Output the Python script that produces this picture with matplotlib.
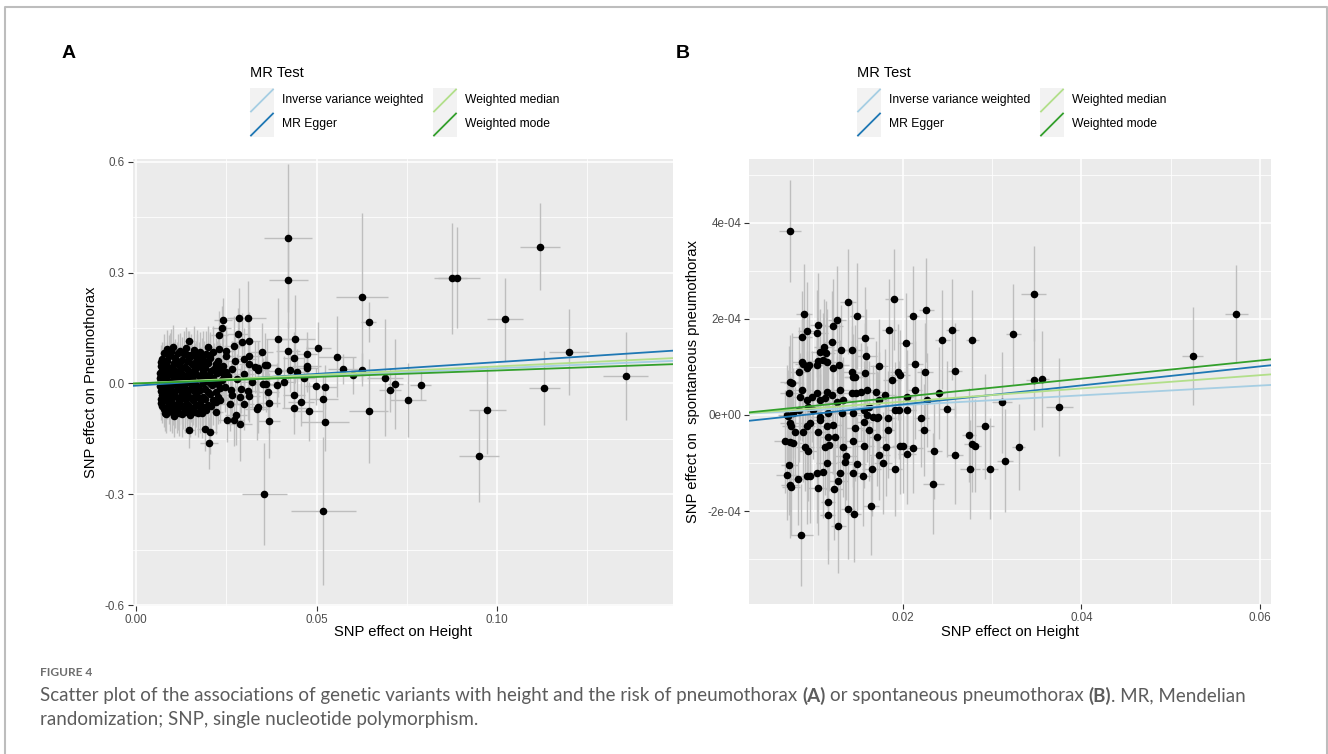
import numpy as np
import matplotlib
matplotlib.use("Agg")
import matplotlib.pyplot as plt
from matplotlib.patches import Rectangle
from matplotlib.lines import Line2D

plt.rcParams["font.family"] = ["Liberation Sans", "DejaVu Sans"]

W, H = 1328, 754

# ---------------- data: panel A (height -> pneumothorax) ----------------
a_wide_x = [0.0420, 0.0422, 0.0626, 0.0644, 0.0876, 0.0889, 0.1119, 0.1021, 0.1200, 0.1356,
            0.1131, 0.0973, 0.0950, 0.0355, 0.0519, 0.0644, 0.0689, 0.0704, 0.0718, 0.0752,
            0.0788, 0.0557, 0.0574, 0.0600, 0.0626, 0.0505, 0.0497, 0.0524, 0.0519, 0.0524,
            0.0479, 0.0457, 0.0438, 0.0438, 0.0473, 0.0473, 0.0473, 0.0441, 0.0437, 0.0420,
            0.0426, 0.0447, 0.0465, 0.0394, 0.0394, 0.0391, 0.0410, 0.0369, 0.0367, 0.0362,
            0.0348, 0.0337, 0.0337, 0.0364, 0.0352, 0.0310, 0.0285, 0.0241, 0.0237, 0.0314,
            0.0293, 0.0282, 0.0147, 0.0287, 0.0277, 0.0252, 0.0271, 0.0202, 0.0204, 0.0191,
            0.0147, 0.0221, 0.0314, 0.0298, 0.0314, 0.0314, 0.0271, 0.0248, 0.0229,
            0.0265, 0.0280, 0.0300, 0.0320, 0.0290, 0.0310, 0.0275, 0.0300, 0.0330, 0.0265,
            0.0250, 0.0255, 0.0233, 0.0260, 0.0288, 0.0334, 0.0339, 0.0357, 0.0360, 0.0225,
            0.0200, 0.0231, 0.0245, 0.0235]
a_wide_y = [0.393, 0.280, 0.235, 0.165, 0.285, 0.286, 0.370, 0.173, 0.085, 0.020,
            -0.013, -0.072, -0.197, -0.300, -0.346, -0.074, 0.015, -0.018, -0.002, -0.044,
            -0.004, 0.072, 0.039, 0.0225, 0.037, 0.095, -0.008, -0.009, -0.041, -0.104,
            -0.075, -0.050, -0.067, -0.031, 0.048, 0.041, 0.079, 0.120, 0.070, 0.087,
            0.037, 0.031, 0.016, 0.120, 0.034, -0.005, 0.003, -0.102, -0.053, 0.050,
            0.084, 0.043, -0.063, -0.024, -0.002, 0.178, 0.177, 0.172, 0.150, 0.114,
            0.111, 0.135, 0.116, -0.110, -0.086, -0.098, -0.098, -0.162, -0.131, -0.122,
            -0.125, -0.078, -0.033, -0.056, 0.075, 0.052, 0.102, 0.075, 0.093,
            0.040, 0.012, 0.025, 0.005, -0.015, -0.020, 0.060, 0.065, 0.045, -0.030,
            0.088, 0.020, -0.046, -0.055, -0.037, -0.069, 0.035, 0.049, -0.001, 0.053,
            0.098, 0.130, -0.010, 0.030]
a_wide_sex = [0.0066, 0.0054, 0.0073, 0.0020, 0.0040, 0.0065, 0.0056, 0.0050, 0.0056, 0.0062,
              0.0043, 0.0051, 0.0055, 0.0063, 0.0089, 0.0053, 0.0050, 0.0030, 0.0020, 0.0050,
              0.0030, 0.0052, 0.0042, 0.0035, 0.0030, 0.0035, 0.0030, 0.0032, 0.0040, 0.0066,
              0.0040, 0.0035, 0.0035, 0.0030, 0.0040, 0.0031, 0.0028, 0.0054, 0.0030, 0.0033,
              0.0029, 0.0031, 0.0030, 0.0034, 0.0030, 0.0027, 0.0031, 0.0030, 0.0033, 0.0029,
              0.0032, 0.0030, 0.0028, 0.0031, 0.0030, 0.0050, 0.0032, 0.0025, 0.0026, 0.0030,
              0.0031, 0.0029, 0.0015, 0.0033, 0.0030, 0.0025, 0.0028, 0.0025, 0.0020, 0.0021,
              0.0015, 0.0020, 0.0030, 0.0029, 0.0031, 0.0030, 0.0028, 0.0025, 0.0024,
              0.0028, 0.0030, 0.0026, 0.0032, 0.0027, 0.0030, 0.0025, 0.0033, 0.0029, 0.0026,
              0.0024, 0.0027, 0.0023, 0.0028, 0.0030, 0.0031, 0.0029, 0.0034, 0.0030, 0.0022,
              0.0020, 0.0024, 0.0026, 0.0023]
a_wide_sey = [0.200, 0.130, 0.225, 0.054, 0.150, 0.137, 0.118, 0.113, 0.117, 0.119,
              0.100, 0.120, 0.125, 0.138, 0.200, 0.140, 0.158, 0.060, 0.122, 0.100,
              0.040, 0.110, 0.040, 0.050, 0.045, 0.072, 0.050, 0.060, 0.070, 0.080,
              0.080, 0.065, 0.070, 0.060, 0.070, 0.060, 0.060, 0.120, 0.070, 0.080,
              0.060, 0.062, 0.058, 0.110, 0.070, 0.060, 0.070, 0.100, 0.080, 0.070,
              0.080, 0.070, 0.072, 0.068, 0.070, 0.100, 0.080, 0.060, 0.060, 0.080,
              0.080, 0.070, 0.025, 0.100, 0.080, 0.060, 0.070, 0.070, 0.060, 0.060,
              0.050, 0.060, 0.070, 0.070, 0.080, 0.070, 0.080, 0.070, 0.060,
              0.075, 0.068, 0.082, 0.071, 0.066, 0.079, 0.073, 0.085, 0.070, 0.064,
              0.069, 0.072, 0.061, 0.074, 0.077, 0.083, 0.080, 0.088, 0.076, 0.062,
              0.058, 0.065, 0.067, 0.063]

a_core_x = [0.0085, 0.0102, 0.0122, 0.0138, 0.0160, 0.0178, 0.0195, 0.0212,
            0.0072, 0.0090, 0.0108, 0.0128, 0.0150, 0.0170, 0.0188, 0.0205, 0.0228,
            0.0068, 0.0082, 0.0100, 0.0118, 0.0135, 0.0155, 0.0175, 0.0192, 0.0215, 0.0240,
            0.0066, 0.0078, 0.0094, 0.0112, 0.0130, 0.0148, 0.0166, 0.0185, 0.0202, 0.0225, 0.0250,
            0.0070, 0.0088, 0.0105, 0.0122, 0.0142, 0.0160, 0.0180, 0.0198, 0.0218, 0.0238,
            0.0067, 0.0080, 0.0098, 0.0116, 0.0134, 0.0152, 0.0172, 0.0190, 0.0210, 0.0232, 0.0262,
            0.0072, 0.0090, 0.0108, 0.0126, 0.0145, 0.0165, 0.0184, 0.0205, 0.0228,
            0.0070, 0.0085, 0.0102, 0.0120, 0.0140, 0.0158, 0.0178, 0.0198, 0.0222,
            0.0076, 0.0095, 0.0115, 0.0135, 0.0155, 0.0176, 0.0195,
            0.0083, 0.0105, 0.0128, 0.0150, 0.0172,
            0.0078, 0.0096, 0.0112, 0.0144, 0.0166, 0.0090, 0.0125, 0.0100, 0.0140, 0.0118,
            0.0092, 0.0130, 0.0162, 0.0113, 0.0075, 0.0065]
a_core_y = [0.092, 0.098, 0.088, 0.095, 0.090, 0.084, 0.079, 0.086,
            0.066, 0.074, 0.070, 0.064, 0.072, 0.068, 0.061, 0.069, 0.062,
            0.048, 0.052, 0.045, 0.050, 0.044, 0.053, 0.047, 0.042, 0.040, 0.046,
            0.028, 0.033, 0.027, 0.031, 0.024, 0.030, 0.026, 0.033, 0.022, 0.027, 0.031,
            0.010, 0.006, 0.013, 0.008, 0.012, 0.004, 0.011, 0.007, 0.002, 0.009,
            -0.008, -0.013, -0.006, -0.011, -0.004, -0.014, -0.009, -0.016, -0.005, -0.012, -0.018,
            -0.031, -0.026, -0.034, -0.028, -0.033, -0.025, -0.036, -0.029, -0.038,
            -0.052, -0.047, -0.055, -0.049, -0.056, -0.046, -0.053, -0.058, -0.050,
            -0.068, -0.073, -0.066, -0.075, -0.070, -0.064, -0.072,
            -0.084, -0.088, -0.082, -0.086, -0.080,
            0.060, 0.086, 0.058, 0.078, 0.058, 0.040, 0.040, -0.020, -0.018, 0.020,
            -0.040, -0.060, -0.038, -0.076, -0.020, 0.015]
a_core_sex = [0.0014, 0.0016, 0.0013, 0.0017, 0.0015, 0.0018, 0.0016, 0.0019,
              0.0012, 0.0015, 0.0014, 0.0016, 0.0013, 0.0017, 0.0015, 0.0018, 0.0019,
              0.0011, 0.0013, 0.0015, 0.0014, 0.0016, 0.0013, 0.0017, 0.0015, 0.0018, 0.0020,
              0.0011, 0.0012, 0.0014, 0.0016, 0.0013, 0.0015, 0.0017, 0.0014, 0.0016, 0.0019, 0.0021,
              0.0012, 0.0014, 0.0013, 0.0015, 0.0017, 0.0014, 0.0016, 0.0018, 0.0017, 0.0020,
              0.0011, 0.0013, 0.0015, 0.0014, 0.0016, 0.0013, 0.0017, 0.0015, 0.0018, 0.0019, 0.0022,
              0.0012, 0.0014, 0.0016, 0.0013, 0.0015, 0.0017, 0.0014, 0.0018, 0.0020,
              0.0012, 0.0013, 0.0015, 0.0017, 0.0014, 0.0016, 0.0015, 0.0018, 0.0019,
              0.0013, 0.0015, 0.0014, 0.0016, 0.0017, 0.0015, 0.0018,
              0.0013, 0.0016, 0.0014, 0.0017, 0.0015,
              0.0013, 0.0015, 0.0014, 0.0016, 0.0017, 0.0014, 0.0015, 0.0016, 0.0013, 0.0015,
              0.0014, 0.0016, 0.0017, 0.0015, 0.0012, 0.0011]
a_core_sey = [0.052, 0.061, 0.048, 0.057, 0.066, 0.054, 0.063, 0.070,
              0.045, 0.058, 0.051, 0.062, 0.049, 0.067, 0.055, 0.064, 0.072,
              0.044, 0.050, 0.059, 0.047, 0.061, 0.053, 0.066, 0.058, 0.069, 0.074,
              0.043, 0.049, 0.055, 0.060, 0.052, 0.064, 0.057, 0.068, 0.061, 0.070, 0.075,
              0.046, 0.053, 0.058, 0.050, 0.063, 0.056, 0.067, 0.060, 0.071, 0.066,
              0.044, 0.051, 0.056, 0.062, 0.049, 0.065, 0.058, 0.069, 0.063, 0.072, 0.076,
              0.047, 0.054, 0.060, 0.052, 0.066, 0.059, 0.068, 0.064, 0.071,
              0.046, 0.050, 0.057, 0.063, 0.053, 0.067, 0.060, 0.070, 0.073,
              0.049, 0.055, 0.061, 0.058, 0.064, 0.069, 0.066,
              0.050, 0.056, 0.062, 0.059, 0.065,
              0.052, 0.060, 0.055, 0.063, 0.058, 0.054, 0.061, 0.057, 0.062, 0.053,
              0.056, 0.064, 0.060, 0.058, 0.050, 0.047]

# second layer of the dense core (between the rows above)
a_dense_x = [0.0078, 0.0095, 0.0115, 0.0132, 0.0152, 0.0168, 0.0186, 0.0204,
             0.0070, 0.0086, 0.0104, 0.0122, 0.0142, 0.0162, 0.0182, 0.0200, 0.0220,
             0.0072, 0.0088, 0.0106, 0.0124, 0.0145, 0.0163, 0.0183, 0.0208, 0.0232,
             0.0069, 0.0084, 0.0101, 0.0119, 0.0137, 0.0156, 0.0174, 0.0192, 0.0212, 0.0244,
             0.0066, 0.0078, 0.0093, 0.0110, 0.0128, 0.0148, 0.0166, 0.0186, 0.0205, 0.0226,
             0.0070, 0.0086, 0.0104, 0.0122, 0.0140, 0.0160, 0.0178, 0.0198, 0.0220,
             0.0068, 0.0082, 0.0098, 0.0116, 0.0135, 0.0152, 0.0172, 0.0192, 0.0212,
             0.0073, 0.0090, 0.0108, 0.0126, 0.0146, 0.0166, 0.0186, 0.0208,
             0.0080, 0.0100, 0.0120, 0.0140, 0.0162, 0.0183]
a_dense_y = [0.081, 0.077, 0.083, 0.079, 0.076, 0.082, 0.074, 0.078,
             0.057, 0.060, 0.055, 0.059, 0.061, 0.054, 0.058, 0.056, 0.052,
             0.037, 0.040, 0.036, 0.039, 0.035, 0.038, 0.041, 0.034, 0.036,
             0.019, 0.017, 0.021, 0.018, 0.020, 0.016, 0.019, 0.022, 0.015, 0.018,
             0.001, -0.002, 0.000, 0.002, -0.001, 0.001, -0.003, 0.000, 0.002, -0.002,
             -0.021, -0.018, -0.022, -0.019, -0.023, -0.020, -0.017, -0.022, -0.024,
             -0.041, -0.038, -0.042, -0.039, -0.043, -0.040, -0.037, -0.042, -0.044,
             -0.061, -0.058, -0.063, -0.060, -0.062, -0.059, -0.064, -0.061,
             -0.079, -0.077, -0.080, -0.078, -0.076, -0.081]
a_dense_sex = [0.0013, 0.0015, 0.0014, 0.0017, 0.0016, 0.0015, 0.0018, 0.0017,
               0.0012, 0.0014, 0.0016, 0.0013, 0.0015, 0.0017, 0.0016, 0.0018, 0.0019,
               0.0012, 0.0013, 0.0015, 0.0016, 0.0014, 0.0017, 0.0015, 0.0018, 0.0020,
               0.0011, 0.0013, 0.0014, 0.0016, 0.0015, 0.0013, 0.0017, 0.0016, 0.0018, 0.0021,
               0.0011, 0.0012, 0.0014, 0.0015, 0.0013, 0.0016, 0.0014, 0.0017, 0.0018, 0.0019,
               0.0012, 0.0014, 0.0013, 0.0016, 0.0015, 0.0017, 0.0014, 0.0018, 0.0019,
               0.0011, 0.0013, 0.0015, 0.0014, 0.0016, 0.0013, 0.0017, 0.0015, 0.0018,
               0.0012, 0.0014, 0.0015, 0.0013, 0.0016, 0.0017, 0.0015, 0.0018,
               0.0013, 0.0015, 0.0014, 0.0016, 0.0017, 0.0015]
a_dense_sey = [0.053, 0.059, 0.050, 0.064, 0.057, 0.062, 0.068, 0.060,
               0.046, 0.052, 0.058, 0.049, 0.063, 0.055, 0.066, 0.061, 0.070,
               0.045, 0.051, 0.056, 0.060, 0.053, 0.065, 0.058, 0.067, 0.072,
               0.044, 0.048, 0.054, 0.059, 0.051, 0.062, 0.056, 0.066, 0.064, 0.073,
               0.043, 0.047, 0.052, 0.057, 0.061, 0.050, 0.065, 0.059, 0.068, 0.070,
               0.045, 0.050, 0.055, 0.061, 0.053, 0.064, 0.058, 0.067, 0.071,
               0.044, 0.049, 0.054, 0.060, 0.052, 0.063, 0.057, 0.066, 0.069,
               0.047, 0.053, 0.058, 0.051, 0.064, 0.060, 0.067, 0.070,
               0.050, 0.056, 0.061, 0.055, 0.063, 0.066]

# ---------------- data: panel B (height -> spontaneous pneumothorax), y in 1e-4 ----------------
b_wide_x = [0.00737, 0.00865, 0.03465, 0.05734, 0.05242, 0.03752, 0.03473, 0.03559, 0.03238, 0.03298,
            0.03148, 0.03109, 0.02981, 0.02925, 0.02750, 0.02745, 0.02780, 0.02770, 0.02810, 0.02587,
            0.02587, 0.02557, 0.02445, 0.02407, 0.02343, 0.02355, 0.02266, 0.02253, 0.02236, 0.02210,
            0.02116, 0.02137, 0.02137, 0.02051, 0.02039, 0.01966, 0.01906, 0.01914, 0.01960, 0.01846,
            0.01840, 0.01840, 0.01645, 0.01620, 0.01486, 0.01388, 0.01452, 0.01388, 0.01281, 0.01161,
            0.01161, 0.00895, 0.00750, 0.00960, 0.00737, 0.00737, 0.00767, 0.00720, 0.00750, 0.02500,
            0.02270]
b_wide_y = [3.83, -2.50, 2.52, 2.10, 1.23, 0.17, 0.73, 0.74, 1.68, -0.67,
            -0.95, 0.26, -1.12, -0.24, -1.13, -0.41, 1.56, -0.60, -0.64, -0.83,
            0.92, 1.77, 1.56, 0.46, -1.43, -0.76, 2.18, 0.90, -0.31, -0.06,
            2.05, 1.06, 0.51, 0.38, 1.50, -0.64, 2.41, -1.12, 0.10, 1.77,
            -0.06, -0.31, -1.89, 0.17, 2.06, 2.36, -2.07, -1.96, -2.31, -2.09,
            -1.82, 2.10, -1.49, -1.28, -0.57, 0.68, 0.66, -0.03, -0.24, 0.12,
            0.31]
b_wide_sex = [0.00122, 0.00128, 0.00140, 0.00133, 0.00122, 0.00148, 0.00090, 0.00080, 0.00080, 0.00070,
              0.00090, 0.00110, 0.00090, 0.00100, 0.00110, 0.00080, 0.00070, 0.00080, 0.00070, 0.00090,
              0.00080, 0.00070, 0.00080, 0.00070, 0.00120, 0.00080, 0.00080, 0.00090, 0.00070, 0.00080,
              0.00070, 0.00090, 0.00080, 0.00070, 0.00080, 0.00085, 0.00100, 0.00080, 0.00075, 0.00080,
              0.00085, 0.00070, 0.00090, 0.00070, 0.00080, 0.00085, 0.00080, 0.00075, 0.00080, 0.00085,
              0.00080, 0.00090, 0.00100, 0.00095, 0.00100, 0.00105, 0.00095, 0.00100, 0.00105, 0.00090,
              0.00080]
b_wide_sey = [1.06, 1.06, 0.99, 1.02, 1.02, 1.02, 1.05, 1.00, 1.05, 0.90,
              1.07, 1.06, 1.05, 1.09, 1.03, 0.98, 1.04, 1.01, 0.97, 1.02,
              0.99, 1.05, 1.03, 0.95, 1.05, 0.98, 1.08, 1.01, 0.96, 1.03,
              1.05, 0.99, 1.02, 0.97, 1.04, 1.00, 1.05, 0.98, 1.02, 1.06,
              0.97, 1.01, 1.03, 0.96, 1.10, 1.10, 1.00, 1.04, 0.98, 1.02,
              0.99, 1.05, 1.01, 0.97, 1.03, 0.99, 1.04, 0.96, 1.02, 1.00,
              0.97]

b_core_x = [0.00926, 0.00870, 0.01057, 0.01046, 0.01262, 0.01225, 0.01206, 0.01076, 0.01120, 0.01143,
            0.01307, 0.01437, 0.01590, 0.01583, 0.00870, 0.00882, 0.00956, 0.00844, 0.00926, 0.01038,
            0.01057, 0.01105, 0.01158, 0.01225, 0.01292, 0.01430, 0.01467, 0.01441, 0.01583, 0.01732,
            0.01952, 0.01971, 0.01878,
            0.00732, 0.00870, 0.00852, 0.00926, 0.00982, 0.01046, 0.01076, 0.01131, 0.01158, 0.01206,
            0.01299, 0.01337, 0.01430, 0.01479, 0.01531, 0.01598, 0.01702, 0.01740, 0.01803,
            0.00703, 0.00777, 0.00844, 0.00945, 0.01001, 0.01076, 0.01169, 0.01262, 0.01318, 0.01441,
            0.01568, 0.01598, 0.01672, 0.01728, 0.01915, 0.02046,
            0.00740, 0.00796, 0.00684, 0.00777, 0.00889, 0.00926, 0.00964, 0.00908, 0.00945, 0.01057,
            0.01076, 0.01158, 0.01225, 0.01169, 0.01243, 0.01131, 0.01180, 0.01337, 0.01367, 0.01467,
            0.01449, 0.01568, 0.01568, 0.01628, 0.01710, 0.01710, 0.01740, 0.01777, 0.01486, 0.01355,
            0.01150, 0.01046, 0.01105, 0.01299, 0.01449, 0.01553, 0.01654, 0.00732, 0.00703, 0.00740,
            0.00833, 0.00926, 0.01057, 0.01232, 0.01281, 0.01814, 0.02001, 0.02046, 0.02113]
b_core_y = [1.74, 1.62, 1.87, 1.70, 1.98, 1.85, 1.52, 1.32, 1.41, 1.28,
            1.35, 1.35, 1.23, 1.60, 1.10, 1.06, 1.04, 0.90, 0.97, 1.04,
            1.13, 1.14, 1.10, 0.97, 1.04, 0.90, 0.80, 0.78, 0.88, 1.02,
            0.90, 0.83, 0.73,
            0.46, 0.52, 0.38, 0.31, 0.38, 0.46, 0.31, 0.35, 0.48, 0.42,
            0.51, 0.31, 0.45, 0.46, 0.48, 0.51, 0.48, 0.31, 0.42,
            0.00, 0.04, 0.10, 0.17, 0.10, -0.04, 0.04, 0.28, 0.04, 0.04,
            0.10, 0.00, -0.04, -0.04, 0.10, 0.10,
            -0.17, -0.35, -0.55, -0.58, -0.35, -0.24, -0.17, -0.66, -0.76, -0.35,
            -0.10, -0.24, -0.21, -0.45, -0.45, -0.66, -0.62, -0.66, -0.85, -0.28,
            -0.55, -0.14, -0.64, -0.31, -0.07, -0.45, -0.83, -1.00, -1.02, -0.97,
            -1.00, -1.21, -1.18, -1.21, -1.21, -1.28, -1.13, -1.04, -1.25, -1.46,
            -1.34, -1.27, -1.52, -1.55, -1.37, -0.66, -0.64, -0.81, -0.69]
b_core_sex = [0.00100, 0.00110, 0.00090, 0.00120, 0.00100, 0.00110, 0.00090, 0.00105, 0.00115, 0.00095,
              0.00100, 0.00110, 0.00120, 0.00095, 0.00105, 0.00090, 0.00110, 0.00100, 0.00115, 0.00095,
              0.00105, 0.00100, 0.00120, 0.00090, 0.00110, 0.00100, 0.00115, 0.00095, 0.00105, 0.00100,
              0.00090, 0.00110, 0.00100,
              0.00110, 0.00100, 0.00120, 0.00090, 0.00110, 0.00100, 0.00115, 0.00095, 0.00105, 0.00100,
              0.00120, 0.00090, 0.00110, 0.00100, 0.00115, 0.00095, 0.00105, 0.00100, 0.00120,
              0.00100, 0.00115, 0.00090, 0.00110, 0.00100, 0.00120, 0.00095, 0.00105, 0.00100, 0.00115,
              0.00090, 0.00110, 0.00100, 0.00120, 0.00095, 0.00105,
              0.00110, 0.00090, 0.00120, 0.00100, 0.00105, 0.00095, 0.00115, 0.00100, 0.00110, 0.00090,
              0.00120, 0.00100, 0.00105, 0.00095, 0.00115, 0.00100, 0.00110, 0.00090, 0.00120, 0.00100,
              0.00105, 0.00095, 0.00115, 0.00100, 0.00110, 0.00090, 0.00120, 0.00100, 0.00105, 0.00095,
              0.00115, 0.00100, 0.00110, 0.00090, 0.00120, 0.00100, 0.00105, 0.00095, 0.00115, 0.00100,
              0.00110, 0.00090, 0.00120, 0.00100, 0.00105, 0.00095, 0.00115, 0.00100, 0.00110]
b_core_sey = [1.02, 0.95, 1.08, 0.91, 1.12, 0.98, 1.05, 0.89, 1.00, 1.10,
              0.93, 1.04, 0.97, 1.07, 0.90, 1.01, 1.09, 0.94, 1.03, 0.88,
              1.06, 0.99, 1.11, 0.92, 1.02, 0.96, 1.08, 0.90, 1.04, 0.97,
              1.00, 0.93, 1.05,
              0.98, 1.06, 0.91, 1.03, 0.95, 1.09, 0.88, 1.01, 1.07, 0.94,
              1.04, 0.90, 1.08, 0.97, 1.02, 0.92, 1.05, 0.99, 0.96,
              1.04, 0.93, 1.08, 0.97, 1.01, 0.89, 1.06, 0.95, 1.10, 0.92,
              1.03, 0.98, 1.07, 0.94, 1.00, 0.96,
              1.01, 0.94, 1.07, 0.90, 1.04, 0.98, 1.09, 0.92, 1.03, 0.96,
              1.06, 0.89, 1.02, 1.08, 0.93, 1.00, 0.97, 1.05, 0.91, 1.10,
              0.95, 1.03, 0.88, 1.06, 0.99, 1.02, 0.94, 1.07, 0.97, 1.01,
              0.92, 1.04, 0.96, 1.08, 0.90, 1.03, 0.98, 1.05, 0.93, 1.09,
              0.95, 1.00, 0.97, 1.06, 0.91, 1.02, 0.99, 1.04, 0.94]

# MR estimates (intercept, slope) per method
methods = ["Inverse variance weighted", "MR Egger", "Weighted median", "Weighted mode"]
method_colors = ["#A6CEE3", "#1F78B4", "#B2DF8A", "#33A02C"]
a_intercepts = [0.0, -0.006, 0.0, 0.0]
a_slopes = [0.41, 0.636, 0.46, 0.35]
b_intercepts = [0.0, -1.77e-5, 0.0, 0.0]
b_slopes = [1.02e-3, 1.98e-3, 1.38e-3, 1.89e-3]


def fx(px):
    return px / W


def fy(py):
    return 1 - py / H


def panel(rect_px, xs, ys, sexs, seys, intercepts, slopes, xlim, ylim,
          xmaj, xmin, xlabels, ymaj, ymin, ylabels):
    l, t, r, b = rect_px
    ax = fig.add_axes([fx(l), fy(b), (r - l) / W, (b - t) / H])
    ax.set_facecolor("#EBEBEB")
    x = np.concatenate([np.asarray(v, float) for v in xs])
    y = np.concatenate([np.asarray(v, float) for v in ys])
    sx = np.concatenate([np.asarray(v, float) for v in sexs])
    sy = np.concatenate([np.asarray(v, float) for v in seys])
    ax.errorbar(x, y, yerr=sy, fmt="none", ecolor="#BEBEBE", elinewidth=1.0, capsize=0, zorder=2)
    ax.errorbar(x, y, xerr=sx, fmt="none", ecolor="#BEBEBE", elinewidth=1.0, capsize=0, zorder=2)
    ax.scatter(x, y, s=30, c="black", linewidths=0, zorder=3)
    for b0, m, c in zip(intercepts, slopes, method_colors):
        ax.axline((0, b0), slope=m, color=c, lw=1.3, zorder=4)
    ax.set_xlim(xlim)
    ax.set_ylim(ylim)
    ax.set_xticks(xmaj)
    ax.set_xticklabels(xlabels)
    ax.set_xticks(xmin, minor=True)
    ax.set_yticks(ymaj)
    ax.set_yticklabels(ylabels)
    ax.set_yticks(ymin, minor=True)
    ax.grid(which="major", color="white", lw=1.1)
    ax.grid(which="minor", color="white", lw=0.55)
    ax.set_axisbelow(True)
    for s in ax.spines.values():
        s.set_visible(False)
    ax.tick_params(which="major", length=3.5, width=0.8, color="#333333",
                   labelsize=8.4, labelcolor="#4D4D4D", pad=2)
    ax.tick_params(which="minor", length=0)
    return ax


def legend(x0):
    fig.text(fx(x0), fy(73), "MR Test", fontsize=10.5, va="center", ha="left")
    for i, (name, c) in enumerate(zip(methods, method_colors)):
        col, row = i // 2, i % 2
        kx = x0 + col * 183
        ky = 88.5 + row * 24
        fig.add_artist(Rectangle((fx(kx), fy(ky + 24)), 24 / W, 24 / H,
                                 transform=fig.transFigure, color="#F2F2F2", lw=0))
        fig.add_artist(Line2D([fx(kx + 1), fx(kx + 23)], [fy(ky + 23), fy(ky + 1)],
                              transform=fig.transFigure, color=c, lw=1.3))
        fig.text(fx(kx + 32), fy(ky + 11), name, fontsize=8.7, va="center", ha="left")


fig = plt.figure(figsize=(W / 100, H / 100), dpi=100)
fig.patch.set_facecolor("white")

# outer frame (left, top, right)
fig.add_artist(Line2D([fx(4.7), fx(4.7), fx(1326.5), fx(1326.5)],
                      [fy(754), fy(6.7), fy(6.7), fy(754)],
                      transform=fig.transFigure, color="#BDBDBD", lw=1.5))

panel((132.5, 159, 672.5, 606), [a_wide_x, a_core_x, a_dense_x], [a_wide_y, a_core_y, a_dense_y],
      [a_wide_sex, a_core_sex, a_dense_sex], [a_wide_sey, a_core_sey, a_dense_sey],
      a_intercepts, a_slopes,
      (-0.001, 0.1486), (-0.602, 0.607),
      [0.0, 0.05, 0.10], [0.025, 0.075, 0.125], ["0.00", "0.05", "0.10"],
      [-0.6, -0.3, 0.0, 0.3, 0.6], [-0.45, -0.15, 0.15, 0.45],
      ["-0.6", "-0.3", "0.0", "0.3", "0.6"])

b_y = [np.asarray(b_wide_y) * 1e-4, np.asarray(b_core_y) * 1e-4]
b_sey = [np.asarray(b_wide_sey) * 1e-4, np.asarray(b_core_sey) * 1e-4]
panel((749.3, 159.3, 1271, 604.3), [b_wide_x, b_core_x], b_y,
      [b_wide_sex, b_core_sex], b_sey, b_intercepts, b_slopes,
      (0.00284, 0.0612), (-3.94e-4, 5.32e-4),
      [0.02, 0.04, 0.06], [0.01, 0.03, 0.05], ["0.02", "0.04", "0.06"],
      [-2e-4, 0.0, 2e-4, 4e-4], [-3e-4, -1e-4, 1e-4, 3e-4, 5e-4],
      ["-2e-04", "0e+00", "2e-04", "4e-04"])

# axis titles
fig.text(fx(402.5), fy(632), "SNP effect on Height", fontsize=10.6, ha="center", va="center")
fig.text(fx(1010), fy(632), "SNP effect on Height", fontsize=10.6, ha="center", va="center")
fig.text(fx(91), fy(382.5), "SNP effect on Pneumothorax", fontsize=10.6,
         rotation=90, ha="center", va="center")
fig.text(fx(693), fy(382), "SNP effect on  spontaneous pneumothorax", fontsize=10.6,
         rotation=90, ha="center", va="center")

# panel tags
fig.text(fx(69), fy(54), "A", fontsize=14, fontweight="bold", ha="center", va="center")
fig.text(fx(683), fy(54), "B", fontsize=14, fontweight="bold", ha="center", va="center")

legend(250)
legend(857)

# caption
cap_font = ["Lato", "DejaVu Sans"]
renderer = fig.canvas.get_renderer()


def text_w(s, size, weight):
    t = fig.text(0, 0, s, fontsize=size, fontweight=weight, family=cap_font)
    w = t.get_window_extent(renderer).width
    t.remove()
    return w


def runs(x_px, y_px, parts, size, color):
    sp = text_w("x x", size, "normal") - text_w("xx", size, "normal")
    x = x_px
    for k, (s, wgt) in enumerate(parts):
        if k > 0 and not s.startswith((".", ",")):
            x += sp
        t = fig.text(fx(x), fy(y_px), s, fontsize=size, fontweight=wgt, family=cap_font,
                     color=color, va="center", ha="left")
        x += t.get_window_extent(renderer).width


line1 = [("Scatter plot of the associations of genetic variants with height and the risk of pneumothorax", "normal"),
         ("(A)", "bold"), ("or spontaneous pneumothorax", "normal"), ("(B)", "bold"),
         (". MR, Mendelian", "normal")]
base = 10.0
gap = text_w("x x", base, "normal") - text_w("xx", base, "normal")
tot = sum(text_w(s, base, w) for s, w in line1) + 3 * gap
size = base * (1250 - 40) / tot

fig.text(fx(40), fy(672), "FIGURE 4", fontsize=8.6, fontweight="bold", family=cap_font,
         color="#6E6E6E", va="center", ha="left")
runs(40, 696, line1, size, "#5C5C5C")
runs(40, 719, [("randomization; SNP, single nucleotide polymorphism.", "normal")], size, "#5C5C5C")

fig.savefig("out.png", dpi=100)
